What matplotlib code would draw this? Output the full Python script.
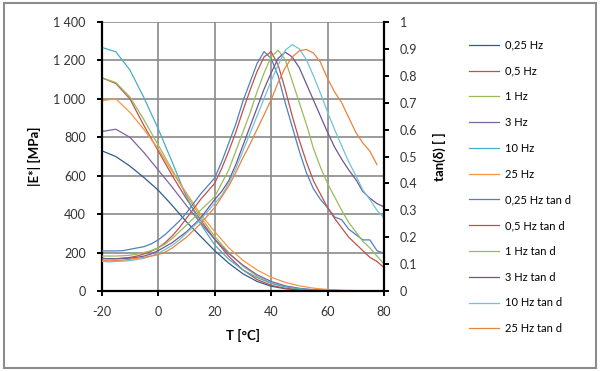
import numpy as np
import matplotlib
matplotlib.use("Agg")
import matplotlib.pyplot as plt
from matplotlib.patches import Rectangle
from matplotlib.ticker import FuncFormatter

plt.rcParams["font.family"] = ["Lato", "DejaVu Sans"]
plt.rcParams["axes.unicode_minus"] = False

# temperature grid of the modulus curves [degC]
T_MOD = [-20, -15, -10, -5, 0, 5, 10, 15, 20, 25, 30, 35, 40, 45, 50, 55, 60, 65, 70, 75, 80]

# |E*| [MPa]
E_025 = [730, 700, 650, 590, 525, 445, 360, 285, 210, 145, 90, 50, 25, 12, 6, 3, 2, 1, 1, 0, 0]
E_05 = [1110, 1080, 1000, 860, 730, 600, 480, 370, 270, 180, 110, 60, 30, 14, 7, 4, 2, 1, 1, 0, 0]
E_1 = [1110, 1085, 1010, 890, 760, 630, 500, 385, 285, 200, 130, 78, 42, 22, 11, 5, 3, 2, 1, 0, 0]
E_3 = [830, 842, 800, 720, 630, 540, 445, 355, 270, 195, 135, 85, 50, 27, 14, 7, 4, 2, 1, 1, 0]
E_10 = [1268, 1245, 1150, 1005, 845, 670, 490, 350, 240, 165, 110, 70, 40, 22, 12, 6, 3, 2, 1, 1, 0]
E_25 = [990, 1000, 930, 840, 740, 620, 510, 400, 310, 225, 160, 110, 72, 45, 27, 15, 8, 4, 2, 1, 1]

# temperature grid of the loss factor curves [degC]
T_TAN = [-20, -17.5, -15, -12.5, -10, -7.5, -5, -2.5, 0, 2.5, 5, 7.5, 10, 12.5, 15, 17.5,
         20, 22.5, 25, 27.5, 30, 32.5, 35, 37.5, 40, 42.5, 45, 47.5, 50, 52.5, 55, 57.5,
         60, 62.5, 65, 67.5, 70, 72.5, 75, 77.5, 80]

TAN_025 = [.149, .149, .149, .150, .155, .160, .165, .175, .190, .210, .235, .260, .290, .325, .360, .390,
           .420, .480, .550, .620, .705, .775, .845, .890, .865, .800, .700, .610, .520, .440, .380, .340,
           .310, .275, .265, .230, .210, .190, .190, .150, .140]
TAN_05 = [.121, .120, .120, .122, .125, .130, .138, .148, .160, .180, .205, .235, .270, .305, .340, .370,
          .400, .455, .520, .590, .670, .745, .815, .870, .890, .840, .750, .650, .560, .480, .410, .360,
          .310, .270, .235, .200, .175, .150, .125, .110, .087]
TAN_1 = [.130, .130, .130, .131, .133, .137, .143, .150, .160, .175, .195, .220, .245, .270, .300, .325,
         .350, .400, .450, .520, .590, .660, .740, .810, .870, .895, .860, .780, .700, .620, .530, .460,
         .400, .350, .300, .255, .220, .185, .160, .130, .100]
TAN_3 = [.121, .120, .120, .121, .122, .125, .130, .138, .150, .165, .180, .200, .220, .245, .270, .305,
         .340, .370, .410, .470, .540, .610, .680, .750, .810, .865, .888, .870, .830, .770, .710, .650,
         .590, .535, .490, .450, .415, .370, .345, .325, .313]
TAN_10 = [.111, .108, .110, .111, .113, .117, .122, .130, .140, .155, .170, .190, .215, .240, .265, .295,
          .326, .355, .400, .455, .520, .585, .650, .715, .780, .840, .895, .916, .900, .860, .800, .735,
          .665, .600, .540, .480, .430, .375, .340, .300, .272]
TAN_25 = [.115, .112, .113, .115, .118, .122, .125, .130, .135, .145, .160, .180, .200, .225, .250, .280,
          .310, .350, .390, .440, .495, .545, .600, .655, .710, .775, .830, .870, .893, .898, .885, .850,
          .790, .740, .700, .645, .590, .550, .520, .470, np.nan]

MOD_LABELS = ["0,25 Hz", "0,5 Hz", "1 Hz", "3 Hz", "10 Hz", "25 Hz"]
TAN_LABELS = ["0,25 Hz tan d", "0,5 Hz tan d", "1 Hz tan d", "3 Hz tan d", "10 Hz tan d", "25 Hz tan d"]
MOD_COLORS = ["#2F5D91", "#C0504D", "#9BBB59", "#8064A2", "#4BACC6", "#F79646"]
TAN_COLORS = ["#4F81BD", "#C0504D", "#9BBB59", "#6E5696", "#6FC3DA", "#E8843C"]


def thousands(v, pos):
    return f"{int(v):,}".replace(",", " ")


def main():
    fig = plt.figure(figsize=(6.0, 3.71), dpi=100)
    fig.patches.append(Rectangle((0.006, 0.009), 0.988, 0.982, transform=fig.transFigure,
                                 fill=False, edgecolor="#8c8c8c", linewidth=1.5))

    ax = fig.add_axes([0.1695, 0.2156, 0.4705, 0.7251])
    ax2 = ax.twinx()

    mods = [E_025, E_05, E_1, E_3, E_10, E_25]
    tans = [TAN_025, TAN_05, TAN_1, TAN_3, TAN_10, TAN_25]

    handles = []
    for vals, lab, col in zip(mods, MOD_LABELS, MOD_COLORS):
        h, = ax.plot(T_MOD, vals, color=col, lw=0.9, label=lab)
        handles.append(h)
    for vals, lab, col in zip(tans, TAN_LABELS, TAN_COLORS):
        h, = ax2.plot(T_TAN, vals, color=col, lw=0.9, label=lab)
        handles.append(h)

    ax.set_xlim(-20, 80)
    ax.set_ylim(0, 1400)
    ax2.set_ylim(0, 1)
    ax.set_xticks(np.arange(-20, 81, 20))
    ax.set_yticks(np.arange(0, 1401, 200))
    ax2.set_yticks(np.arange(0, 1.01, 0.1))
    ax.yaxis.set_major_formatter(FuncFormatter(thousands))
    ax2.yaxis.set_major_formatter(FuncFormatter(lambda v, p: "0" if v == 0 else ("1" if v > 0.99 else f"{v:.1f}")))

    ax.grid(True, color="#8a8a8a", lw=1.2)
    ax.set_axisbelow(True)
    for a in (ax, ax2):
        a.spines["top"].set_visible(False)
    ax.spines["right"].set_visible(False)
    ax2.spines["left"].set_visible(False)
    ax2.spines["bottom"].set_visible(False)
    for s in (ax.spines["left"], ax.spines["bottom"], ax2.spines["right"]):
        s.set_linewidth(1.6)
        s.set_color("black")

    ax.tick_params(axis="both", direction="out", length=3.5, width=1.4, labelsize=9,
                   colors="black", labelcolor="#333333")
    ax.tick_params(axis="y", pad=8)
    ax.tick_params(axis="x", pad=7)
    ax2.tick_params(axis="y", direction="out", length=3.5, width=1.4, labelsize=9,
                    pad=8, labelcolor="#333333")

    ax.set_xlabel("T [°C]", fontsize=9.5, fontweight="bold", labelpad=8)
    ax.set_ylabel("|E*| [MPa]", fontsize=9.5, fontweight="bold", labelpad=9)
    ax2.set_ylabel("tan(δ) [ ]", fontsize=9.5, fontweight="bold", labelpad=11)

    fig.legend(handles=handles, loc="upper left", bbox_to_anchor=(0.775, 0.905),
               frameon=False, fontsize=8, handlelength=2.7, handletextpad=0.5,
               labelspacing=1.33, borderaxespad=0)

    fig.savefig("out.png", dpi=100)


if __name__ == "__main__":
    main()
